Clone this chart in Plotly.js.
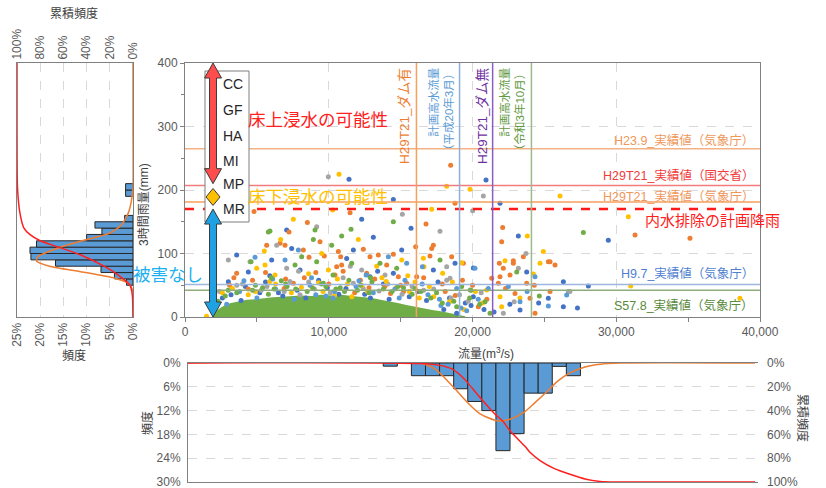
<!DOCTYPE html>
<html><head><meta charset="utf-8">
<script src="https://cdn.plot.ly/plotly-3.0.1.min.js"></script>
<style>html,body{margin:0;padding:0;background:#fff;}#chart{width:826px;height:488px;}</style>
</head><body><div id="chart"></div>
<script>
// ---------------- DATA ----------------
const seriesNames = ['CC','GF','HA','MI','MP','MR'];

const ccX = [11410,14494,12290,7073,13102,3594,7421,11711,15074,6029,4406,14494,12870,20940,21914,29450,23189,23769,18783,26320,28059,25276,26320,23305,20058,15723,3015,4200,5600,7800,9300,11200,13800,16200,18400,19500,6500,12500,17600,20800,3200,
  8000,11247,17277,20060,2600,3900,5200,6800,8400,9900,10700,12900,14200,15600,16800,18000,18900,19900,21500,22600,24600,27300,5900,13400];
const ccY = [217,185,154,137,125.5,97.6,108,105.5,105.5,89.8,71,69,63.5,215.7,179,121,127.5,71,84.5,55.6,49,29.4,16.3,11,32,139.6,55.6,48,55,42,58,45,52,40,30,22,38,36,55,12,35,
  74,92,74,77,30,26,38,33,30,46,36,30,28,32,26,12,6,18,8,20,22,14,65,72];

const gfX = [11479,8511,7235,6957,5682,9392,8233,8627,9693,10667,10830,12407,12870,13450,14494,16047,3594,10899,14030,10436,14842,18481,18783,31306,16765,22099,22030,17276,17160,25276,25740,23537,21867,22841,22145,22609,18551,17044,25392,24349,24001,22957,21334,21798,20406,35130,4700,6900,8300,10000,11800,13200,15000,16600,18100,19300,3400,12800,14300,4800,
  6609,7536,10551,12639,15422,16117,19364,21915,22843,23771,25395,3100,4400,5600,7000,9100,11000,12200,13900,15200,17900,18800,20000,21000,22300,24300];
const gfY = [164,149,134,113,113,118.6,105.5,94,96,103,95,106.6,95,97.6,99,110.7,69,82,82,66,63.5,239,179,129,146.5,141,118.6,113,108,87,82,95,84.5,88.7,76.6,66,95,96,40,5.8,29.4,37,61,53,16.3,124,58,45,62,52,38,60,50,62,40,58,62,46,37,166,
  116,53,79,68.8,53,63.5,84.5,63.5,84.5,53,87,50,44,70,60,70,72,58,48,40,52,34,50,28,45,50];

const haX = [9970,15120,9160,6377,3015,7073,12290,13914,20754,20012,17739,23722,23189,18203,18435,26668,22145,19827,26780,3600,5300,7300,9000,11000,13500,15800,17300,19100,8000,
  4522,11711,18205,2400,4000,5700,6900,8600,10100,12400,14100,15100,16600,18500,19700,20600,22900,7900,11500];
const haY = [221,162,142,113,89.8,76.6,74,66,190.5,167.5,135,100,76.6,79,61,40,5.8,42.5,40,50,42,56,44,62,41,48,44,35,35,
  87,53,58,40,52,48,40,55,38,45,52,36,42,30,25,38,24,72,80];

const miX = [10714,10273,7537,12059,6656,5519,9508,15074,4986,5566,9972,13334,6261,16580,18203,19827,17160,26088,30842,23815,24928,22261,24233,19247,16626,17925,31005,21914,22030,38600,1500,2600,4400,6300,8100,10600,12300,14000,15600,17000,18600,20200,9600,11600,16300,
  8812,20988,24699,3300,4900,5900,7400,9300,10400,11300,12700,13700,14700,16000,17300,18400,19400,20700,23300,2100,15500,8600];
const miY = [225,168.5,154,122,122,104,100,89.8,76.6,82,74,80,66,92.4,206,201,169.5,190.5,158,127.5,103,88.7,67.7,85.5,79,68.8,49,32,16.3,29.4,1,38,35,52,47,60,50,56,40,48,55,40,40,32,30,
  47.8,42.5,84.5,45,40,56,38,54,34,52,40,62,46,55,32,24,12,22,30,15,65,68];

const mpX = [4870,7885,14146,15421,6957,16511,24349,20174,25276,23305,22493,26550,3800,6100,8700,10400,12100,14600,16900,18900,19600,5000,9800,15300,17800,
  4100,6300,7600,9100,10300,11900,13100,14900,16500,17700,18300,19200,20400,21100,23800,2900,8800,12600];
const mpY = [94,105.5,95,84.5,89.8,79,63.5,76.6,17.3,24,48,34.6,40,60,50,40,57,44,35,45,10,30,33,58,18,
  57,44,28,35,30,48,38,30,52,28,20,14,28,45,40,20,62,66];

const mrX = [14494,5913,9044,8928,10899,11548,10204,4592,7653,8117,9160,11595,14726,27711,17739,24650,20870,21218,19247,3000,4900,5800,7100,8500,9500,10800,12000,13000,14800,16000,17500,18700,19800,6700,11400,2300,20500,
  5796,9624,13566,23075,2800,3600,4700,5400,6200,7000,7700,8900,9800,10500,11100,12200,12800,13800,14400,15200,15800,16400,17100,17900,18900,19900,6000,10300,12900];
const mrY = [150,135.5,137,122,127.5,138,113,87,82,95,87,84.5,76.6,133,89.8,33,24,5.8,48,42,50,36,48,40,52,46,42,55,48,45,38,25,30,57,58,25,20,
  134,53,84.5,71,33,38,42,46,44,52,44,45,48,44,40,50,38,44,40,46,36,40,30,22,16,42,62,66,62];

// dense MR point cloud (envelope of the solid green region)
const cloudX = [1900,2200,2500,2800,3200,3700,4300,4900,5500,6100,6700,7400,8100,8800,9500,10200,10900,11600,12300,13000,13600,14200,14800,15400,16000,16600,17200,17800,18400,19000,19500,19500];
const cloudY = [0,10,15,19,22,24,27,28,30,31,32,33,34,33,35,34,35,33,32,30,27,25,22,19,16,14,11,9,6,4,1,0];

// rainfall histogram (left panel)
const rainBins = [55,65,75,85,95,105,115,125,135,145,155,195,205];
const rainFreq = [1.4,4,6.9,16.7,22,22.2,20.8,10,6.7,8.2,1.8,1.6,1.6];
const rainFitMm = [0,40,46,53,61,71,80,88,95,109,120,132,145,164,185,205,300,400];
const rainFitPct = [0,0,0.3,1,3.9,11,18,20.8,20.5,16,11,5,2.5,1,0.3,0,0,0];
const rainCumMm = [0,35,50,66,82,97.6,110,120,130,140,164,205,300,400];
const rainCumPct = [0,0.6,2.6,12.7,27,45,64,80,89,94,97.5,99.6,100,100];

// discharge histogram (bottom panel)
const flowBins = [14280,16240,17220,18200,19180,20160,21140,22120,23100,24080,25060,26040,27020];
const flowFreq = [0.8,3.2,3.2,3.2,6.5,9.7,12.0,22.1,17.8,7.6,7.6,0.85,3.2];
const flowFitX = [209,16348,17391,18643,19826,20522,21774,22609,23513,24348,25183,25948,26783,27826,28870,30261,39652];
const flowFitPct = [0,0,1.5,6,10.6,12.8,14.6,14.2,12.6,10,7.2,4.5,2.5,1,0.3,0,0];
const flowCumX = [209,16348,17739,18570,19480,19826,20522,21570,22120,22610,23650,24000,24700,25740,26780,27830,28870,30260,39652];
const flowCumPct = [0,0.5,2,5,14,19,29,43,49,57,70,75,82,89,93.5,97.5,99.5,100,100];

// reference lines
const hLineNames = ['H23.9_実績値（気象庁）','H29T21_実績値（国交省）','H29T21_実績値（気象庁）','H9.7_実績値（気象庁）','S57.8_実績値（気象庁）'];
const hLineValues = [265,207,181,51,42];
const planRainName = '内水排除の計画降雨';
const planRainValue = 170;
const vLineNames = ['H29T21_ダム有','計画高水流量<br>（平成20年3月）','H29T21_ダム無','計画高水流量<br>（令和3年10月）'];
const vLineValues = [16100,19100,21400,24100];

// damage zones (arrow extents, mm) and labels
const zoneArrowX = 1950;
const zoneAbove = [210,400];
const zoneBelowCenter = 189;
const zoneNone = [0,170];
const zoneLabels = ['床上浸水の可能性','床下浸水の可能性','被害なし'];

// tick labels
const mainXTicks = [0,10000,20000,30000,40000];
const mainXTickText = ['0','10,000','20,000','30,000','40,000'];
const leftFreqTicks = [0,5,10,15,20,25];
const leftFreqText = ['0%','5%','10%','15%','20%','25%'];
const cumTicks = [0,20,40,60,80,100];
const cumText = ['0%','20%','40%','60%','80%','100%'];
const botFreqTicks = [0,6,12,18,24,30];
const botFreqText = ['0%','6%','12%','18%','24%','30%'];

// ---------------- STYLE ----------------
const FONT = 'Liberation Sans, Noto Sans CJK JP, sans-serif';
const JP = 'Noto Sans CJK JP, sans-serif';
const seriesColors = ['#4472c4','#ed7d31','#a5a5a5','#ffc000','#5b9bd5','#70ad47'];
const W = 826, H = 488;
const PX = v => v / W;
const PY = v => 1 - v / H;
const GRID = '#d9d9d9', AX = '#808080';

const seriesX = [ccX,gfX,haX,miX,mpX,mrX];
const seriesY = [ccY,gfY,haY,miY,mpY,mrY];

const traces = [];
traces.push({type:'scatter', mode:'lines', x:cloudX, y:cloudY, fill:'toself', fillcolor:seriesColors[5], line:{width:0, color:seriesColors[5]}, xaxis:'x', yaxis:'y', hoverinfo:'skip'});
seriesNames.forEach((n,i) => {
  traces.push({type:'scatter', mode:'markers', name:n, x:seriesX[i], y:seriesY[i], marker:{size:5, color:seriesColors[i]}, xaxis:'x', yaxis:'y'});
});
// left panel
traces.push({type:'bar', orientation:'h', x:rainFreq, y:rainBins, width:10, marker:{color:'#5b9bd5', line:{color:'#262626', width:1}}, xaxis:'x2', yaxis:'y2'});
traces.push({type:'scatter', mode:'lines', x:rainFitPct, y:rainFitMm, line:{color:'#ed7d31', width:1.5, shape:'spline', smoothing:0.6}, xaxis:'x2', yaxis:'y2'});
traces.push({type:'scatter', mode:'lines', x:rainCumPct, y:rainCumMm, line:{color:'#ff1f1f', width:1.5, shape:'spline', smoothing:0.6}, xaxis:'x3', yaxis:'y2'});
// bottom panel
traces.push({type:'bar', x:flowBins, y:flowFreq, width:980, marker:{color:'#5b9bd5', line:{color:'#262626', width:1}}, xaxis:'x4', yaxis:'y4'});
traces.push({type:'scatter', mode:'lines', x:flowFitX, y:flowFitPct, line:{color:'#ed7d31', width:1.5, shape:'spline', smoothing:0.8}, xaxis:'x4', yaxis:'y4'});
traces.push({type:'scatter', mode:'lines', x:flowCumX, y:flowCumPct, line:{color:'#ff1f1f', width:1.5, shape:'spline', smoothing:0.8}, xaxis:'x4', yaxis:'y5'});

// ---------------- SHAPES ----------------
const hLineColors = ['#f4b183','#f27c7c','#f4a15d','#9fb7e0','#8fac7c'];
const hLabelColors = ['#f0975a','#f03c3c','#f0975a','#4f7fd0','#5a8a3c'];
const vLineColors = ['#f4a15d','#8fb0dc','#8a5cc8','#9cba8c'];
const vLabelColors = ['#ed7d31','#5b9bd5','#7030a0','#62993e'];

const shapes = [];
hLineValues.forEach((v,i) => shapes.push({type:'line', xref:'x domain', x0:0, x1:1, yref:'y', y0:v, y1:v, line:{color:hLineColors[i], width:1.5}, layer:'above'}));
shapes.push({type:'line', xref:'x domain', x0:0, x1:1, yref:'y', y0:planRainValue, y1:planRainValue, line:{color:'#ff1a1a', width:2.5, dash:'dash'}, layer:'above'});
vLineValues.forEach((v,i) => shapes.push({type:'line', xref:'x', x0:v, x1:v, yref:'y domain', y0:0, y1:1, line:{color:vLineColors[i], width:1.5}, layer:'above'}));

// legend-like box
shapes.push({type:'rect', xref:'paper', yref:'paper', x0:PX(205), x1:PX(249), y0:PY(222), y1:PY(71), fillcolor:'#ffffff', line:{color:'#7f7f7f', width:1}, layer:'above'});

const sx = 40000/575, sy = 400/254;
function dblArrow(xc, y0, y1, hwPx, swPx, hlPx) {
  const hw = hwPx*sx, sw = swPx*sx, hl = hlPx*sy;
  const p = [[xc,y1],[xc+hw,y1-hl],[xc+sw,y1-hl],[xc+sw,y0+hl],[xc+hw,y0+hl],[xc,y0],[xc-hw,y0+hl],[xc-sw,y0+hl],[xc-sw,y1-hl],[xc-hw,y1-hl]];
  return 'M' + p.map(q => q[0]+','+q[1]).join(' L') + ' Z';
}
function diamond(xc, yc, wPx, hPx) {
  const w = wPx*sx, h = hPx*sy;
  return `M${xc},${yc+h} L${xc+w},${yc} L${xc},${yc-h} L${xc-w},${yc} Z`;
}
shapes.push({type:'path', xref:'x', yref:'y', path:dblArrow(zoneArrowX, zoneAbove[0], zoneAbove[1], 8.5, 3.5, 15), fillcolor:'#ff4d4d', line:{color:'#3a3a3a', width:1}, layer:'above'});
shapes.push({type:'path', xref:'x', yref:'y', path:diamond(zoneArrowX, zoneBelowCenter, 7, 8.5), fillcolor:'#ffc000', line:{color:'#3a3a3a', width:1}, layer:'above'});
shapes.push({type:'path', xref:'x', yref:'y', path:dblArrow(zoneArrowX, zoneNone[0], zoneNone[1], 8.5, 3.5, 15), fillcolor:'#1fa2e3', line:{color:'#3a3a3a', width:1}, layer:'above'});

// ---------------- ANNOTATIONS ----------------
function txt(text, x, y, opts) {
  const o = {text, xref:'paper', yref:'paper', x:PX(x), y:PY(y), showarrow:false, xanchor:'center', yanchor:'middle', font:{family:FONT, size:12, color:'#404040'}};
  return Object.assign(o, opts || {});
}
const ann = [];
ann.push(txt('累積頻度', 74, 12, {font:{family:JP, size:12, color:'#404040'}}));
ann.push(txt('頻度', 74, 354, {font:{family:JP, size:12, color:'#404040'}}));
ann.push(txt('3時間雨量(mm)', 144, 205, {textangle:-90, font:{family:FONT, size:12, color:'#404040'}}));
ann.push(txt('流量(m<sup>3</sup>/s)', 486, 353, {font:{family:FONT, size:12, color:'#404040'}}));
ann.push(txt('頻度', 146, 423, {textangle:-90, font:{family:JP, size:12, color:'#404040'}}));
ann.push(txt('累積頻度', 804, 418, {textangle:90, font:{family:JP, size:12, color:'#404040'}}));

// series name labels in box
const boxLabelY = [84,110,136,161,184,209];
seriesNames.forEach((n,i) => ann.push(txt(n, 221, boxLabelY[i], {xanchor:'left', font:{family:FONT, size:14, color:'#262626'}})));

// zone labels
ann.push(txt(zoneLabels[0], 318, 118, {font:{family:JP, size:17.5, color:'#ff2020'}}));
ann.push(txt(zoneLabels[1], 318, 195, {font:{family:JP, size:17.5, color:'#ffc000'}}));
ann.push(txt(zoneLabels[2], 168, 273, {font:{family:JP, size:17.5, color:'#1fb0f0'}}));

// horizontal line labels
const hLabelY = [141,175,196,273,305];
hLineNames.forEach((n,i) => ann.push(txt(n, 756, hLabelY[i], {xanchor:'right', font:{family:FONT, size:12.5, color:hLabelColors[i]}})));
ann.push(txt(planRainName, 643, 219, {xanchor:'left', font:{family:JP, size:15, color:'#ff2020'}}));

// vertical line labels
const vLabelX = [405,441,483,512];
const vLabelSize = [13.5,11.5,13.5,11.5];
vLineNames.forEach((n,i) => ann.push(txt(n, vLabelX[i], 66, {yanchor:'top', textangle:-90, align:'right', font:{family:FONT, size:vLabelSize[i], color:vLabelColors[i]}})));

// ---------------- LAYOUT ----------------
const tickFont = {family:FONT, size:12, color:'#595959'};
const yDom = [PY(317), PY(63)];
const layout = {
  width:W, height:H, margin:{l:0,r:0,t:0,b:0},
  paper_bgcolor:'#ffffff', plot_bgcolor:'rgba(0,0,0,0)',
  showlegend:false, hovermode:false,
  font:{family:FONT, size:12, color:'#595959'},
  bargap:0,
  xaxis:{domain:[PX(185),PX(760)], range:[0,40000], anchor:'y', tickvals:mainXTicks, ticktext:mainXTickText, tickfont:tickFont,
    showgrid:true, gridcolor:GRID, griddash:'dash', zeroline:false, showline:true, linecolor:AX, mirror:true,
    ticks:'outside', ticklen:4, tickcolor:AX, minor:{dtick:5000, ticks:'outside', ticklen:4, tickcolor:AX, showgrid:false}},
  yaxis:{domain:yDom, range:[0,400], anchor:'x', dtick:100, tickfont:tickFont,
    showgrid:true, gridcolor:GRID, griddash:'dash', zeroline:false, showline:true, linecolor:AX, mirror:true,
    ticks:'outside', ticklen:4, tickcolor:AX, minor:{dtick:50, ticks:'outside', ticklen:3, tickcolor:AX, showgrid:false}},
  xaxis2:{domain:[PX(17),PX(133)], range:[25,0], anchor:'y2', tickvals:leftFreqTicks, ticktext:leftFreqText, tickangle:-90, tickfont:tickFont,
    showgrid:true, gridcolor:GRID, griddash:'dash', zeroline:false, showline:true, linecolor:AX, ticks:'', ticklabeloverflow:'allow'},
  xaxis3:{overlaying:'x2', side:'top', anchor:'y2', range:[100,0], tickvals:cumTicks, ticktext:cumText, tickangle:-90, tickfont:tickFont,
    showgrid:false, zeroline:false, showline:true, linecolor:AX, ticks:'', ticklabeloverflow:'allow'},
  yaxis2:{domain:yDom, range:[0,400], anchor:'x2', showticklabels:false, showgrid:false, zeroline:false, showline:true, linecolor:AX, mirror:true, ticks:''},
  xaxis4:{domain:[PX(188),PX(758)], range:[209,39861], anchor:'y4', showticklabels:false, showgrid:false, zeroline:false, showline:true, linecolor:AX, mirror:true, ticks:''},
  yaxis4:{domain:[PY(482),PY(363)], range:[30,0], anchor:'x4', tickvals:botFreqTicks, ticktext:botFreqText, tickfont:tickFont,
    showgrid:true, gridcolor:GRID, griddash:'dash', zeroline:false, showline:true, linecolor:AX, ticks:'', ticklabelstandoff:4, ticklabeloverflow:'allow'},
  yaxis5:{overlaying:'y4', side:'right', anchor:'x4', range:[100,0], tickvals:cumTicks, ticktext:cumText, tickfont:tickFont,
    showgrid:false, zeroline:false, showline:false, ticks:'', ticklabelstandoff:8, ticklabeloverflow:'allow'},
  shapes:shapes,
  annotations:ann
};
Plotly.newPlot('chart', traces, layout, {staticPlot:true, displayModeBar:false});
</script></body></html>
